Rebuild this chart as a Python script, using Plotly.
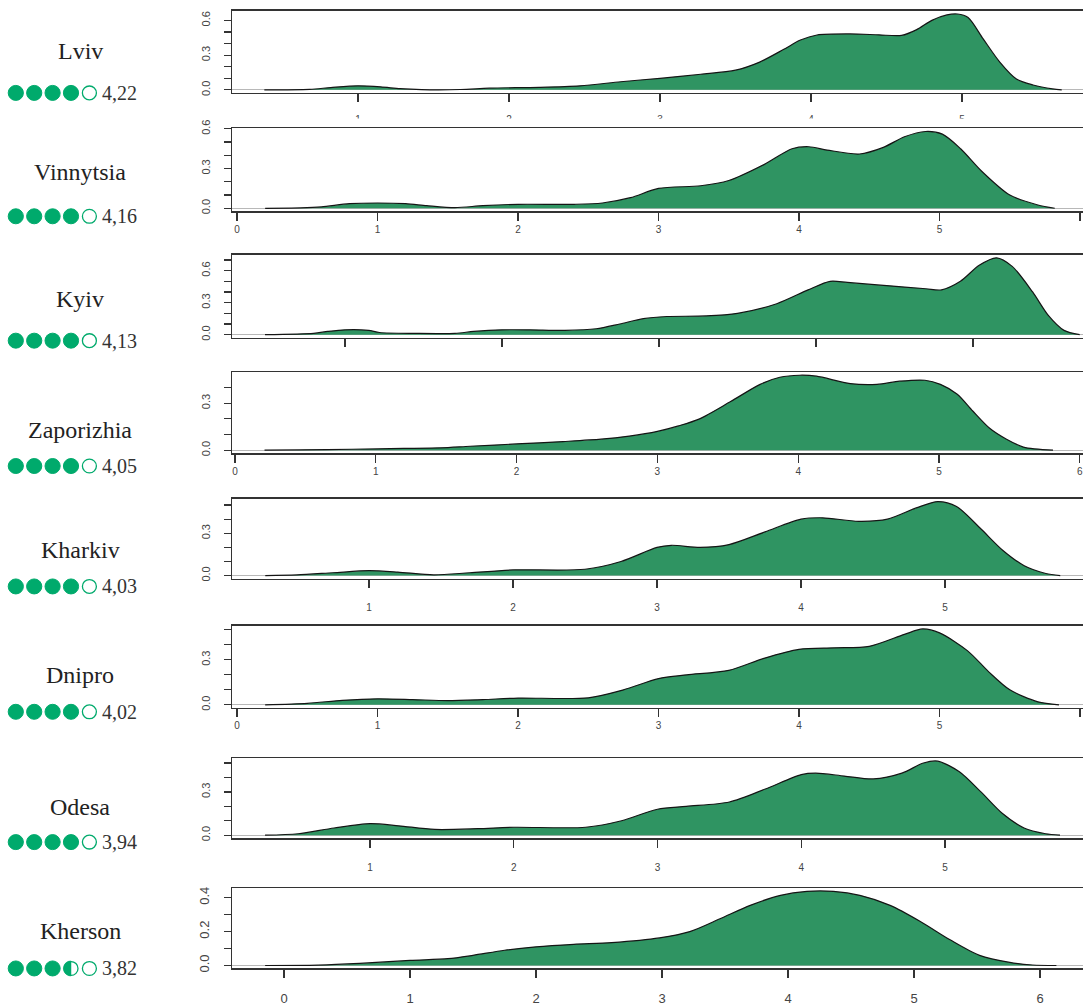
import plotly.graph_objects as go
import numpy as np

# ---------------- data ----------------
cities = ["Lviv", "Vinnytsia", "Kyiv", "Zaporizhia", "Kharkiv", "Dnipro", "Odesa", "Kherson"]
ratings = [4.22, 4.16, 4.13, 4.05, 4.03, 4.02, 3.94, 3.82]
bubbles = [4, 4, 4, 4, 4, 4, 4, 3.5]  # filled bubbles as drawn next to each rating

lviv_x = [0.38, 0.68, 0.82, 1.0, 1.15, 1.28, 1.42, 1.68, 1.87, 2.2, 2.47, 2.74, 3.0, 3.27, 3.5, 3.66, 3.82, 3.93,
          4.04, 4.26, 4.45, 4.6, 4.7, 4.8, 4.9, 4.97, 5.04, 5.14, 5.25, 5.36, 5.47, 5.6, 5.66]
lviv_y = [0, 0.005, 0.02, 0.035, 0.026, 0.01, 0.002, 0.003, 0.015, 0.022, 0.035, 0.07, 0.1, 0.135, 0.17, 0.24, 0.35, 0.43,
          0.474, 0.483, 0.475, 0.47, 0.52, 0.6, 0.647, 0.655, 0.625, 0.44, 0.24, 0.094, 0.042, 0.008, 0]

vinnytsia_x = [0.2, 0.45, 0.6, 0.8, 1.0, 1.2, 1.35, 1.55, 1.75, 2.0, 2.4, 2.6, 2.8, 3.0, 3.3, 3.5, 3.75, 3.95, 4.07,
               4.2, 4.43, 4.6, 4.75, 4.9, 5.02, 5.15, 5.3, 5.5, 5.7, 5.82]
vinnytsia_y = [0, 0.003, 0.01, 0.035, 0.04, 0.035, 0.02, 0.005, 0.02, 0.03, 0.03, 0.04, 0.08, 0.15, 0.17, 0.21, 0.33, 0.45, 0.465,
               0.44, 0.41, 0.46, 0.54, 0.58, 0.56, 0.45, 0.28, 0.1, 0.025, 0]

kyiv_x = [0.49, 0.8, 0.89, 1.0, 1.15, 1.22, 1.45, 1.7, 1.82, 2.0, 2.18, 2.4, 2.6, 2.75, 2.9, 3.05, 3.3, 3.5, 3.75,
          3.95, 4.09, 4.2, 4.45, 4.7, 4.8, 4.92, 5.04, 5.15, 5.25, 5.38, 5.48, 5.58, 5.68]
kyiv_y = [0, 0.012, 0.03, 0.045, 0.04, 0.02, 0.012, 0.012, 0.03, 0.045, 0.045, 0.04, 0.055, 0.1, 0.15, 0.17, 0.175, 0.2, 0.29,
          0.42, 0.5, 0.49, 0.46, 0.43, 0.42, 0.5, 0.65, 0.72, 0.64, 0.4, 0.18, 0.04, 0]

zaporizhia_x = [0.21, 0.46, 0.83, 1.2, 1.46, 1.67, 2.0, 2.33, 2.6, 2.8, 3.0, 3.15, 3.3, 3.52, 3.73, 3.87, 4.01, 4.13,
                4.37, 4.56, 4.72, 4.9, 5.01, 5.13, 5.24, 5.36, 5.48, 5.6, 5.81]
zaporizhia_y = [0, 0.002, 0.006, 0.011, 0.015, 0.025, 0.04, 0.055, 0.07, 0.09, 0.12, 0.155, 0.2, 0.31, 0.42, 0.465, 0.478, 0.472,
                0.425, 0.42, 0.44, 0.446, 0.42, 0.357, 0.25, 0.14, 0.07, 0.02, 0]

kharkiv_x = [0.28, 0.5, 0.75, 1.0, 1.2, 1.45, 1.7, 2.0, 2.5, 2.75, 3.0, 3.1, 3.3, 3.5, 3.75, 4.0, 4.15, 4.4, 4.6,
             4.8, 4.95, 5.08, 5.25, 5.4, 5.55, 5.7, 5.8]
kharkiv_y = [0, 0.005, 0.02, 0.035, 0.025, 0.005, 0.02, 0.04, 0.045, 0.1, 0.2, 0.215, 0.2, 0.22, 0.31, 0.4, 0.41, 0.385, 0.4,
             0.48, 0.525, 0.49, 0.33, 0.18, 0.07, 0.015, 0]

dnipro_x = [0.2, 0.5, 0.75, 1.0, 1.25, 1.5, 1.75, 2.0, 2.5, 2.75, 3.0, 3.2, 3.5, 3.75, 4.0, 4.25, 4.5, 4.75, 4.88,
            5.0, 5.2, 5.35, 5.5, 5.7, 5.85]
dnipro_y = [0, 0.01, 0.03, 0.04, 0.035, 0.028, 0.035, 0.045, 0.047, 0.1, 0.175, 0.2, 0.23, 0.31, 0.37, 0.38, 0.39, 0.47, 0.506,
            0.48, 0.36, 0.22, 0.1, 0.02, 0]

odesa_x = [0.27, 0.5, 0.75, 1.0, 1.2, 1.45, 1.75, 2.0, 2.5, 2.75, 3.0, 3.2, 3.5, 3.75, 4.0, 4.1, 4.3, 4.5, 4.7,
           4.85, 4.95, 5.1, 5.25, 5.4, 5.55, 5.7, 5.8]
odesa_y = [0, 0.01, 0.05, 0.08, 0.065, 0.04, 0.045, 0.055, 0.055, 0.1, 0.18, 0.2, 0.23, 0.32, 0.42, 0.43, 0.41, 0.39, 0.43,
           0.5, 0.513, 0.44, 0.3, 0.15, 0.05, 0.01, 0]

kherson_x = [-0.15, 0.27, 0.6, 1.0, 1.3, 1.5, 1.75, 2.0, 2.3, 2.6, 2.98, 3.22, 3.46, 3.7, 3.94, 4.15, 4.36, 4.57,
             4.81, 5.05, 5.29, 5.52, 5.76, 5.94, 6.13]
kherson_y = [0, 0.002, 0.012, 0.03, 0.04, 0.06, 0.09, 0.11, 0.125, 0.135, 0.163, 0.2, 0.276, 0.355, 0.414, 0.437, 0.437, 0.414,
             0.355, 0.26, 0.15, 0.06, 0.018, 0.003, 0]

series_x = [lviv_x, vinnytsia_x, kyiv_x, zaporizhia_x, kharkiv_x, dnipro_x, odesa_x, kherson_x]
series_y = [lviv_y, vinnytsia_y, kyiv_y, zaporizhia_y, kharkiv_y, dnipro_y, odesa_y, kherson_y]

# ---------------- layout / style (pixels) ----------------
W, H = 1083, 1007
BOX_LEFT = 232
boxes = [(2, 85), (121, 205), (249, 333), (368, 450), (496, 577), (625, 708), (759, 840), (891, 972)]
x_ranges = [(0.166, 5.801), (-0.036, 6.021), (0.280, 5.701), (-0.021, 6.023),
            (0.049, 5.958), (-0.036, 6.021), (0.040, 5.960), (-0.413, 6.341)]
y_label_step = [0.3, 0.3, 0.3, 0.3, 0.3, 0.3, 0.3, 0.2]
show_xlabels = [True, True, False, True, True, True, True, True]
x_standoff = [9, 0, 0, 0, 11, 0, 11, 9]
xtick_font = [10, 10, 10, 10, 10, 10, 10, 13]
ytick_font = [11, 11, 11, 11, 11, 11, 11, 13]
name_y = [43, 165, 294, 427, 548, 675, 808, 934]
dots_y = [85, 210, 336, 463, 585, 712, 844, 972]
NAME_X = 80
DOT_X0, DOT_PITCH, DOT_R = 15.8, 18.4, 7.6
NUM_X = 100
LVIV_CUT = (111, 119)

FILL = "#2f9462"
DOT = "#00aa6c"


def px(x):
    return x / W


def py(y):
    return 1 - y / H


fig = go.Figure()
layout = dict(width=W, height=H, margin=dict(l=0, r=0, t=0, b=0),
              paper_bgcolor="white", plot_bgcolor="white", showlegend=False)

annotations = []
shapes = []
for i in range(8):
    n = i + 1
    xs, ys = series_x[i], series_y[i]
    m = max(ys)
    yr = (-0.04 * m, 1.04 * m)
    fig.add_trace(go.Scatter(x=xs, y=ys, mode="lines", fill="tozeroy", fillcolor=FILL,
                             line=dict(color="#151515", width=1.2, shape="spline", smoothing=0.8),
                             xaxis=f"x{n}", yaxis=f"y{n}", hoverinfo="skip"))
    top, bot = boxes[i]
    step = y_label_step[i]
    tv = list(np.round(np.arange(0, yr[1] + 1e-9, 0.1), 2))
    tt = [f"{v:.1f}" if abs(round(v / step) * step - v) < 1e-6 else "" for v in tv]
    layout[f"xaxis{n}"] = dict(domain=[px(BOX_LEFT), 1], range=list(x_ranges[i]), anchor=f"y{n}",
                               showgrid=False, zeroline=False, showline=True, mirror=True,
                               linecolor="#333", linewidth=1.5, ticks="outside", ticklen=8,
                               tickcolor="#333", tickwidth=1.2, dtick=1, tick0=0,
                               showticklabels=show_xlabels[i], ticklabelstandoff=x_standoff[i],
                               tickfont=dict(family="Liberation Sans", size=xtick_font[i], color="#444"))
    layout[f"yaxis{n}"] = dict(domain=[py(bot), py(top)], range=list(yr), anchor=f"x{n}",
                               showgrid=False, zeroline=True, zerolinecolor="#b8b8b8", zerolinewidth=1,
                               showline=True, mirror=False, linecolor="#333", linewidth=1.5,
                               ticks="outside", ticklen=7, tickcolor="#333", tickwidth=1.2,
                               tickvals=tv, ticktext=tt, tickangle=-90, ticklabelstandoff=9,
                               tickfont=dict(family="Liberation Sans", size=ytick_font[i], color="#444"))
    # city name
    annotations.append(dict(x=px(NAME_X), y=py(name_y[i]), xref="paper", yref="paper",
                            text=cities[i], showarrow=False, xanchor="center", yanchor="middle",
                            font=dict(family="Liberation Serif", size=24, color="#222")))
    # rating bubbles
    shown = bubbles[i]
    cy = dots_y[i]
    for k in range(5):
        cx = DOT_X0 + k * DOT_PITCH
        f = min(max(shown - k, 0.0), 1.0)
        if f >= 1:
            shapes.append(dict(type="circle", xref="paper", yref="paper",
                               x0=px(cx - DOT_R), x1=px(cx + DOT_R), y0=py(cy + DOT_R), y1=py(cy - DOT_R),
                               fillcolor=DOT, line=dict(color=DOT, width=1)))
            continue
        shapes.append(dict(type="circle", xref="paper", yref="paper",
                           x0=px(cx - DOT_R + 0.6), x1=px(cx + DOT_R - 0.6),
                           y0=py(cy + DOT_R - 0.6), y1=py(cy - DOT_R + 0.6),
                           fillcolor="white", line=dict(color=DOT, width=1.3)))
        if f > 0:
            xcut = cx - DOT_R + 2 * DOT_R * f
            tc = np.arccos(np.clip((xcut - cx) / DOT_R, -1, 1))
            ang = np.linspace(tc, 2 * np.pi - tc, 40)
            pts = [(px(cx + DOT_R * np.cos(a)), py(cy - DOT_R * np.sin(a))) for a in ang]
            path = "M " + " L ".join(f"{a:.6f},{b:.6f}" for a, b in pts) + " Z"
            shapes.append(dict(type="path", xref="paper", yref="paper", path=path,
                               fillcolor=DOT, line=dict(color=DOT, width=0.5)))
    annotations.append(dict(x=px(NUM_X), y=py(cy), xref="paper", yref="paper",
                            text=f"{ratings[i]:.2f}".replace(".", ","), showarrow=False,
                            xanchor="left", yanchor="middle",
                            font=dict(family="Liberation Serif", size=20, color="#333")))

# lower part of the first panel's tick labels is hidden under the next panel
shapes.append(dict(type="rect", xref="paper", yref="paper", x0=px(BOX_LEFT), x1=1,
                   y0=py(LVIV_CUT[1]), y1=py(LVIV_CUT[0]), fillcolor="white", line=dict(width=0), layer="above"))
layout["annotations"] = annotations
layout["shapes"] = shapes
fig.update_layout(**layout)
fig.write_html("out.html", config={"displayModeBar": False, "staticPlot": True},
               post_script="document.body.style.margin='0px';")
